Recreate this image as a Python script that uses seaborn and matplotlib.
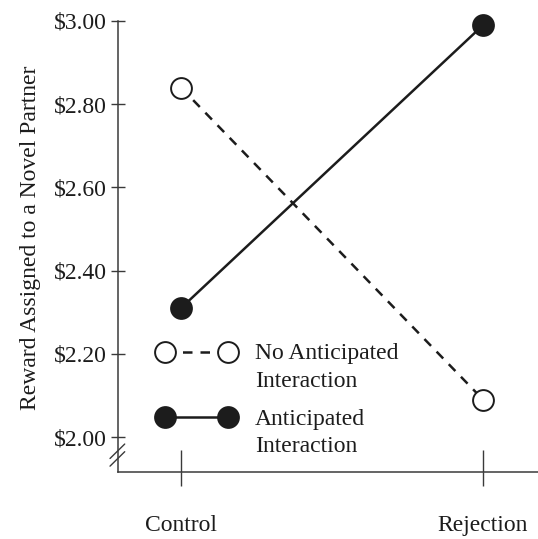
import pandas as pd
import matplotlib
matplotlib.use("Agg")
import matplotlib.pyplot as plt
import seaborn as sns
from matplotlib.ticker import FixedLocator

# data
conditions = ["Control", "Rejection"]
no_anticipated = [2.84, 2.09]
anticipated = [2.31, 2.99]
y_ticks = [2.00, 2.20, 2.40, 2.60, 2.80, 3.00]
y_tick_labels = ["$2.00", "$2.20", "$2.40", "$2.60", "$2.80", "$3.00"]

sns.set_style("ticks")
plt.rcParams["font.family"] = ["Liberation Serif", "DejaVu Serif"]
plt.rcParams["font.size"] = 17

ink = "#1c1c1c"
axis_col = "#3a3a3a"

df = pd.DataFrame({
    "pos": list(range(len(conditions))) * 2,
    "reward": no_anticipated + anticipated,
    "group": ["No Anticipated\nInteraction"] * 2 + ["Anticipated\nInteraction"] * 2,
})

fig = plt.figure(figsize=(5.38, 5.39), dpi=100)
ax = fig.add_axes([118 / 538, 1 - 472 / 539, 420 / 538, 451 / 539])

no_df = df[df["group"] == "No Anticipated\nInteraction"]
yes_df = df[df["group"] == "Anticipated\nInteraction"]

sns.lineplot(data=no_df, x="pos", y="reward", ax=ax, color=ink, linewidth=1.8,
             linestyle="--", marker="o", markersize=15, markerfacecolor="white",
             markeredgecolor=ink, markeredgewidth=1.4, clip_on=False,
             label="No Anticipated\nInteraction")
sns.lineplot(data=yes_df, x="pos", y="reward", ax=ax, color=ink, linewidth=1.8,
             marker="o", markersize=15, markerfacecolor=ink,
             markeredgecolor=ink, markeredgewidth=1.4, clip_on=False,
             label="Anticipated\nInteraction")
ax.lines[0].set_dashes((3.8, 3.2))

ax.set_xlim(-0.2086, 1.182)
ax.set_ylim(1.916, 3.0)

ax.set_yticks(y_ticks)
ax.set_yticklabels(y_tick_labels)
ax.set_xticks(range(len(conditions)))
ax.set_xticklabels(conditions)
ax.xaxis.set_minor_locator(FixedLocator(list(range(len(conditions)))))
ax.xaxis.remove_overlapping_locs = False

ax.tick_params(axis="y", direction="inout", length=10.5, width=1.0, color=axis_col,
               pad=3, labelsize=17, labelcolor=ink)
ax.tick_params(axis="x", which="major", direction="in", length=16, width=1.0,
               color=axis_col, pad=31, labelsize=17, labelcolor=ink)
ax.tick_params(axis="x", which="minor", direction="out", length=10, width=1.0,
               color=axis_col)

for side in ["top", "right"]:
    ax.spines[side].set_visible(False)
for side in ["left", "bottom"]:
    ax.spines[side].set_color(axis_col)
    ax.spines[side].set_linewidth(1.1)

ax.set_xlabel("")
ax.set_ylabel("Reward Assigned to a Novel Partner", fontsize=17, color=ink)
ax.yaxis.set_label_coords(-0.183, 0.52)

# axis break marks
for dy in [0.0, 0.017]:
    ax.plot([-0.019, 0.016], [0.030 - dy, 0.062 - dy], transform=ax.transAxes,
            color=axis_col, linewidth=1.0, clip_on=False)

leg = ax.legend(loc="upper left", bbox_to_anchor=(0.095, 0.285), frameon=False,
                numpoints=2, handlelength=3.27, handletextpad=0.85,
                labelspacing=0.7, borderpad=0, borderaxespad=0, fontsize=17)
for t in leg.get_texts():
    t.set_color(ink)
    t.set_linespacing(1.42)
for col in leg._legend_handle_box.get_children():
    for item in col.get_children():
        item.align = "top"

fig.savefig("out.png", dpi=100)
